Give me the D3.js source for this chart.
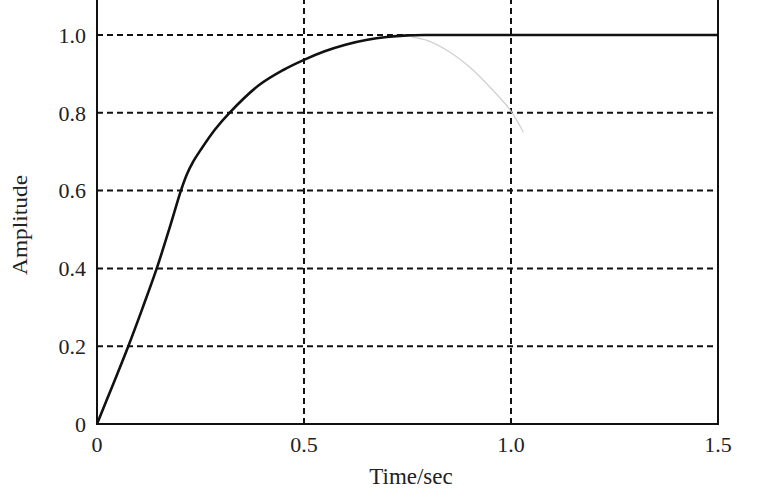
<!DOCTYPE html>
<html><head><meta charset="utf-8">
<script src="https://cdn.jsdelivr.net/npm/d3@7"></script>
<style>body{margin:0;background:#fff}svg{display:block}</style>
</head><body>
<svg id="c" width="760" height="500"></svg>
<script>
const timeVals = [0, 0.04, 0.0756, 0.11, 0.1443, 0.175, 0.2027, 0.2167, 0.232, 0.25, 0.285, 0.32, 0.39, 0.45, 0.5, 0.55, 0.6, 0.65, 0.7, 0.75, 0.8, 0.9, 1.0, 1.2, 1.5];
const ampVals  = [0, 0.105, 0.2, 0.298, 0.4, 0.503, 0.6, 0.641, 0.674, 0.704, 0.757, 0.8, 0.87, 0.91, 0.936, 0.958, 0.975, 0.987, 0.995, 0.999, 1.0, 1.0, 1.0, 1.0, 1.0];
const ghostT = [0.76, 0.8, 0.845, 0.88, 0.908, 0.95, 0.998, 1.03];
const ghostA = [0.995, 0.985, 0.961, 0.935, 0.91, 0.865, 0.807, 0.75];
const xTicks = [0, 0.5, 1.0, 1.5];
const xTickLabels = ["0", "0.5", "1.0", "1.5"];
const yTicks = [0, 0.2, 0.4, 0.6, 0.8, 1.0];
const yTickLabels = ["0", "0.2", "0.4", "0.6", "0.8", "1.0"];

const svg = d3.select("#c");
const x = d3.scaleLinear().domain([0, 1.5]).range([97, 718]);
const y = d3.scaleLinear().domain([0, 1.0]).range([424, 35]);
const font = "'Liberation Serif', 'Times New Roman', serif";

// grid
svg.append("g").selectAll("line").data(yTicks.filter(d => d > 0)).join("line")
  .attr("x1", x(0)).attr("x2", x(1.5)).attr("y1", d => y(d)).attr("y2", d => y(d))
  .attr("stroke", "#111").attr("stroke-width", 2).attr("stroke-dasharray", "6,4");
svg.append("g").selectAll("line").data(xTicks.filter(d => d > 0 && d < 1.5)).join("line")
  .attr("x1", d => x(d)).attr("x2", d => x(d)).attr("y1", y(0)).attr("y2", 0)
  .attr("stroke", "#111").attr("stroke-width", 2).attr("stroke-dasharray", "6,4");

// frame
svg.append("path").attr("d", `M${x(0)},0 V${y(0)} H${x(1.5)} V0`)
  .attr("fill", "none").attr("stroke", "#111").attr("stroke-width", 2);

// ghost curve (scan artifact)
const ghost = ghostT.map((t, i) => [t, ghostA[i]]);
svg.append("path").datum(ghost)
  .attr("d", d3.line().x(d => x(d[0])).y(d => y(d[1])).curve(d3.curveCatmullRom))
  .attr("fill", "none").attr("stroke", "#cfcfcf").attr("stroke-width", 1.2);

// response curve
const pts = timeVals.map((t, i) => [t, ampVals[i]]);
svg.append("path").datum(pts)
  .attr("d", d3.line().x(d => x(d[0])).y(d => y(d[1])).curve(d3.curveCatmullRom.alpha(0.5)))
  .attr("fill", "none").attr("stroke", "#111").attr("stroke-width", 2.6);

// tick labels
svg.append("g").selectAll("text").data(yTicks).join("text")
  .attr("x", 86).attr("y", d => y(d)).attr("dy", "0.35em")
  .attr("text-anchor", "end").attr("font-family", font).attr("font-size", 22).attr("fill", "#222")
  .text((d, i) => yTickLabels[i]);
svg.append("g").selectAll("text").data(xTicks).join("text")
  .attr("x", d => x(d)).attr("y", 452)
  .attr("text-anchor", "middle").attr("font-family", font).attr("font-size", 22).attr("fill", "#222")
  .text((d, i) => xTickLabels[i]);

// axis titles
svg.append("text").attr("x", 411).attr("y", 484).attr("text-anchor", "middle")
  .attr("font-family", font).attr("font-size", 23).attr("fill", "#222").text("Time/sec");
svg.append("text").attr("transform", "translate(27,225) rotate(-90)").attr("text-anchor", "middle")
  .attr("font-family", font).attr("font-size", 20).attr("fill", "#222")
  .attr("textLength", 100).attr("lengthAdjust", "spacingAndGlyphs").text("Amplitude");
</script>
</body></html>
